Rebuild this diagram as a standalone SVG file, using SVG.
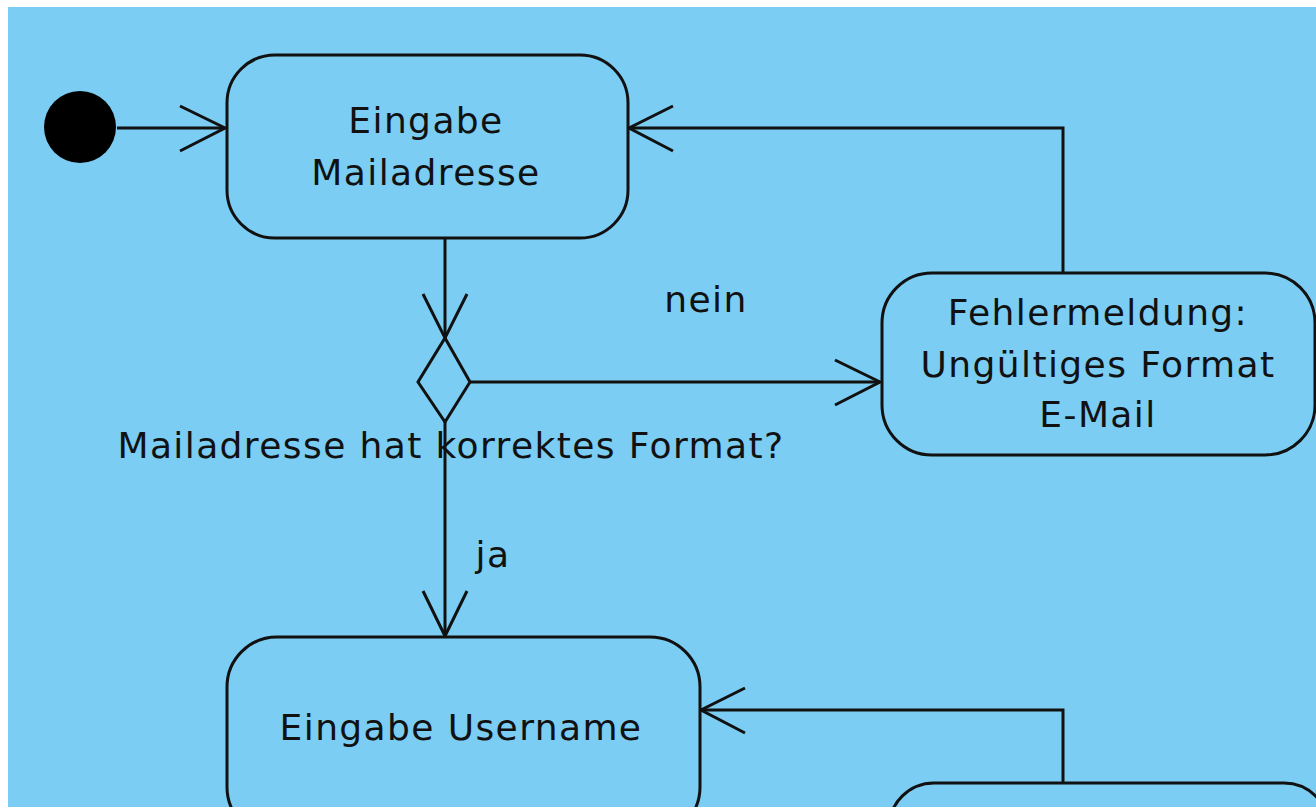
<svg xmlns="http://www.w3.org/2000/svg" width="1316" height="807" viewBox="0 0 1316 807">
<style>
.node{fill:#7bcdf3;stroke:#111;stroke-width:3}
.edge{fill:none;stroke:#111;stroke-width:3}
.head{fill:none;stroke:#111;stroke-width:3;stroke-linejoin:miter}
text{font-family:"DejaVu Sans","Liberation Sans",sans-serif;font-size:36px;fill:#111;text-anchor:middle;letter-spacing:1.4px}
</style>
<rect x="0" y="0" width="1316" height="807" fill="#ffffff"/>
<rect x="8" y="7" width="1308" height="800" fill="#7bcdf3"/>
<g id="connectors">
<path class="edge" d="M117,128 H225"/>
<path class="head" d="M180,106 L225,128 L180,151"/>
<path class="edge" d="M445,238 V338"/>
<path class="head" d="M423,294 L445,338 L467,294"/>
<path class="edge" d="M470,382 H880"/>
<path class="head" d="M835,360 L880,382 L835,405"/>
<path class="edge" d="M445,422 V636"/>
<path class="head" d="M423,591 L445,636 L467,591"/>
<path class="edge" d="M1063,273 V128 H629"/>
<path class="head" d="M673,106 L629,128 L673,151"/>
<path class="edge" d="M1063,783 V710 H701"/>
<path class="head" d="M745,688 L701,710 L745,733"/>
</g>
<g id="start"><circle cx="80" cy="127" r="36" fill="#000"/></g>
<g id="eingabe-mail">
<rect class="node" x="227" y="55" width="401" height="183" rx="48" ry="48"/>
<text x="426" y="133">Eingabe</text>
<text x="426" y="185">Mailadresse</text>
</g>
<g id="decision">
<polygon class="node" points="445,338 470,382 445,422 418,382"/>
<text x="451" y="458">Mailadresse hat korrektes Format?</text>
</g>
<g id="fehler">
<rect class="node" x="882" y="273" width="433" height="182" rx="50" ry="50"/>
<text x="1098" y="325">Fehlermeldung:</text>
<text x="1098" y="377">Ungültiges Format</text>
<text x="1098" y="427">E-Mail</text>
</g>
<g id="eingabe-user">
<rect class="node" x="227" y="637" width="473" height="200" rx="50" ry="50"/>
<text x="461" y="740">Eingabe Username</text>
</g>
<g id="next-node">
<rect class="node" x="889" y="783" width="440" height="100" rx="45" ry="45"/>
</g>
<g id="labels">
<text x="706" y="312">nein</text>
<text x="493" y="567">ja</text>
</g>
</svg>
